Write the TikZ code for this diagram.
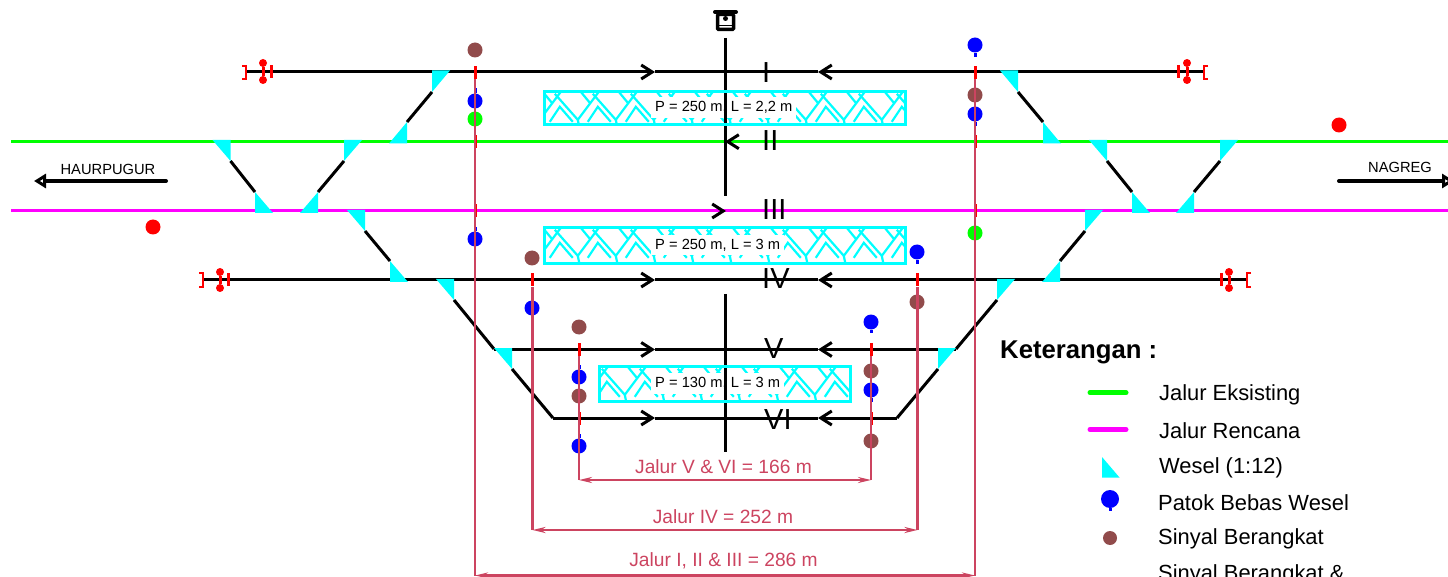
\documentclass[tikz,border=0pt]{standalone}
\usepackage{fontspec}
\setmainfont{Liberation Sans}
\usetikzlibrary{arrows.meta,calc}

\definecolor{ukur}{RGB}{204,68,96}
\definecolor{coklat}{RGB}{145,75,75}
\definecolor{sian}{RGB}{0,255,255}
\definecolor{ungu}{RGB}{255,0,255}
\definecolor{hijau}{RGB}{0,255,0}
\definecolor{biru}{RGB}{0,0,255}
\definecolor{abang}{RGB}{255,0,0}

\newcommand{\arsir}[2]{
\begin{scope}
\clip (#1.north west) rectangle (#1.south east);
\foreach \k in {-1,...,10} {
  \begin{scope}[shift={(#1.north west)}, xshift=#2+38*\k, draw=sian, line width=2.2pt]
  \draw (10,2) -- (33,28) -- (54,0);
  \draw (36,0) -- (45,11);
  \draw (5,30) -- (15,15) -- (28,30);
  \draw (33,28) -- (35,38);
  \end{scope}
}
\end{scope}
}

\begin{document}
\begin{tikzpicture}[x=1pt, y=-1pt]
\tikzstyle{jalur} = [draw=black, line width=3pt]
\tikzstyle{eksisting} = [draw=hijau, line width=3pt]
\tikzstyle{rencana} = [draw=ungu, line width=3pt]
\tikzstyle{panah} = [-{Straight Barb[length=11pt, width=14pt, color=black]}]
\tikzstyle{wesel} = [fill=sian]
\tikzstyle{titik} = [circle, inner sep=0pt, minimum size=15pt]
\tikzstyle{patok} = [titik, fill=biru]
\tikzstyle{batang} = [draw=biru, line width=3pt]
\tikzstyle{sinyal} = [titik, fill=coklat]
\tikzstyle{ijo} = [titik, fill=hijau]
\tikzstyle{merah} = [titik, fill=abang]
\tikzstyle{tanda} = [fill=abang, inner sep=0pt, minimum width=3pt, minimum height=13pt]
\tikzstyle{ukuran} = [draw=ukur, line width=2.5pt]
\tikzstyle{ganda} = [{Stealth[length=13pt, width=6pt]}-{Stealth[length=13pt, width=6pt]}]
\tikzstyle{ukurteks} = [text=ukur, inner sep=0pt, font=\fontsize{19.2pt}{22pt}\selectfont]
\tikzstyle{romawi} = [anchor=base west, inner sep=0pt, font=\fontsize{29pt}{30pt}\selectfont]
\tikzstyle{kota} = [inner sep=0pt, font=\fontsize{14.7pt}{16pt}\selectfont]
\tikzstyle{teks} = [anchor=west, inner sep=0pt, font=\fontsize{21.9pt}{24pt}\selectfont]
\tikzstyle{perontkst} = [anchor=west, fill=white, inner xsep=4pt, inner ysep=4pt, font=\fontsize{14.7pt}{16pt}\selectfont]
\tikzstyle{peron} = [inner sep=0pt]
\tikzstyle{bingkai} = [draw=sian, line width=3pt]
\tikzstyle{sinyalbatas} = [draw=abang, line width=3pt]
\tikzstyle{kurung} = [draw=abang, line width=2pt]
\tikzstyle{bulat} = [circle, fill=abang, inner sep=0pt, minimum size=8pt]
\tikzstyle{besar} = [draw=black, line width=4pt, line cap=round, -{Triangle[open, fill=white, length=12pt, width=14pt, line width=3.5pt]}]
\tikzstyle{contoh} = [line width=5pt, line cap=round]

\useasboundingbox (0,0) rectangle (1448,577);

% jalur
\coordinate (ekstkiri) at (11,141.7);
\coordinate (ekstkanan) at (1448,141.7);
\coordinate (renkiri) at (11,211);
\coordinate (renkanan) at (1448,211);
\draw[eksisting] (ekstkiri) -- (ekstkanan);
\draw[rencana] (renkiri) -- (renkanan);
\coordinate (ekorII) at (737,141.7);
\coordinate (tipII) at (725,141.7);
\draw[eksisting, panah] (ekorII) -- (tipII);
\coordinate (ekorIII) at (713,211);
\coordinate (tipIII) at (726,211);
\draw[rencana, panah] (ekorIII) -- (tipIII);

\coordinate (Ikiri) at (246,72);
\coordinate (Ikanan) at (1204,72);
\coordinate (Itipa) at (655,72);
\coordinate (Itipb) at (818,72);
\draw[jalur, panah] (Ikiri) -- (Itipa);
\draw[jalur, panah] (Ikanan) -- (Itipb);
\draw[jalur] (Itipa) -- (Itipb);

\coordinate (IVkiri) at (203,280);
\coordinate (IVkanan) at (1247,280);
\coordinate (IVtipa) at (655,280);
\coordinate (IVtipb) at (818,280);
\draw[jalur, panah] (IVkiri) -- (IVtipa);
\draw[jalur, panah] (IVkanan) -- (IVtipb);
\draw[jalur] (IVtipa) -- (IVtipb);

\coordinate (Vkiri) at (494,349.5);
\coordinate (Vkanan) at (956,349.5);
\coordinate (Vtipa) at (655,349.5);
\coordinate (Vtipb) at (818,349.5);
\draw[jalur, panah] (Vkiri) -- (Vtipa);
\draw[jalur, panah] (Vkanan) -- (Vtipb);
\draw[jalur] (Vtipa) -- (Vtipb);

\coordinate (VIkiri) at (553,418);
\coordinate (VIkanan) at (897,418);
\coordinate (VItipa) at (655,418);
\coordinate (VItipb) at (818,418);
\draw[jalur, panah] (VIkiri) -- (VItipa);
\draw[jalur, panah] (VIkanan) -- (VItipb);
\draw[jalur] (VItipa) -- (VItipb);

% wesel dan jalur miring, kiri
\coordinate (a1) at (432,92);
\coordinate (a2) at (407,122);
\draw[jalur] (a1) -- (a2);
\fill[wesel] (a1) -- ++(0,-21.5) -- ++(18,0) -- cycle;
\fill[wesel] (a2) -- ++(0,21.5) -- ++(-18,0) -- cycle;

\coordinate (b1) at (230.5,161);
\coordinate (b2) at (255,192);
\draw[jalur] (b1) -- (b2);
\fill[wesel] (b1) -- ++(0,-21) -- ++(-18,0) -- cycle;
\fill[wesel] (b2) -- ++(0,21) -- ++(18,0) -- cycle;

\coordinate (c1) at (344,161);
\coordinate (c2) at (318,192);
\draw[jalur] (c1) -- (c2);
\fill[wesel] (c1) -- ++(0,-21) -- ++(18,0) -- cycle;
\fill[wesel] (c2) -- ++(0,21) -- ++(-18,0) -- cycle;

\coordinate (d1) at (365,231);
\coordinate (d2) at (390,261);
\draw[jalur] (d1) -- (d2);
\fill[wesel] (d1) -- ++(0,-21) -- ++(-18,0) -- cycle;
\fill[wesel] (d2) -- ++(0,21) -- ++(18,0) -- cycle;

\coordinate (e1) at (454,300);
\coordinate (e2) at (494,349);
\coordinate (e3) at (512,369);
\draw[jalur] (e1) -- (e2);
\draw[jalur] (e3) -- (VIkiri);
\fill[wesel] (e1) -- ++(0,-21) -- ++(-18,0) -- cycle;
\fill[wesel] (e3) -- ++(0,-21) -- ++(-18,0) -- cycle;

% wesel dan jalur miring, kanan
\coordinate (f1) at (1018,92);
\coordinate (f2) at (1043,122);
\draw[jalur] (f1) -- (f2);
\fill[wesel] (f1) -- ++(0,-21.5) -- ++(-18,0) -- cycle;
\fill[wesel] (f2) -- ++(0,21.5) -- ++(18,0) -- cycle;

\coordinate (g1) at (1107,161);
\coordinate (g2) at (1132,192);
\draw[jalur] (g1) -- (g2);
\fill[wesel] (g1) -- ++(0,-21) -- ++(-18,0) -- cycle;
\fill[wesel] (g2) -- ++(0,21) -- ++(18,0) -- cycle;

\coordinate (h1) at (1220,161);
\coordinate (h2) at (1194,192);
\draw[jalur] (h1) -- (h2);
\fill[wesel] (h1) -- ++(0,-21) -- ++(18,0) -- cycle;
\fill[wesel] (h2) -- ++(0,21) -- ++(-18,0) -- cycle;

\coordinate (j1) at (1085,231);
\coordinate (j2) at (1060,261);
\draw[jalur] (j1) -- (j2);
\fill[wesel] (j1) -- ++(0,-21) -- ++(18,0) -- cycle;
\fill[wesel] (j2) -- ++(0,21) -- ++(-18,0) -- cycle;

\coordinate (k1) at (997,300);
\coordinate (k2) at (956,349);
\coordinate (k3) at (938,369);
\draw[jalur] (k1) -- (k2);
\draw[jalur] (k3) -- (VIkanan);
\fill[wesel] (k1) -- ++(0,-21) -- ++(18,0) -- cycle;
\fill[wesel] (k3) -- ++(0,-21) -- ++(18,0) -- cycle;

% batas di ujung jalur
\draw[kurung] (242,66) -- (246,66) -- (246,79) -- (242,79);
\draw[kurung] (1208,66) -- (1204,66) -- (1204,79) -- (1208,79);
\draw[kurung] (199,273) -- (203,273) -- (203,287) -- (199,287);
\draw[kurung] (1251,273) -- (1247,273) -- (1247,287) -- (1251,287);

\node[tanda] (ba) at (271.6,72) {};
\node[bulat] (ba1) at (263,63) {};
\node[bulat] (ba2) at (263,80) {};
\draw[sinyalbatas] (ba1) -- (ba2);
\node[tanda] (bb) at (1178.5,72) {};
\node[bulat] (bb1) at (1187,63) {};
\node[bulat] (bb2) at (1187,80) {};
\draw[sinyalbatas] (bb1) -- (bb2);
\node[tanda] (bc) at (228.5,280) {};
\node[bulat] (bc1) at (220,272) {};
\node[bulat] (bc2) at (220,288) {};
\draw[sinyalbatas] (bc1) -- (bc2);
\node[tanda] (bd) at (1221.7,280) {};
\node[bulat] (bd1) at (1229,272) {};
\node[bulat] (bd2) at (1229,288) {};
\draw[sinyalbatas] (bd1) -- (bd2);

% tanda merah
\node[tanda] (t1) at (475,72.5) {};
\node[tanda] (t2) at (475,142) {};
\node[tanda] (t3) at (475,211) {};
\node[tanda] (t4) at (975,72.5) {};
\node[tanda] (t5) at (975,142) {};
\node[tanda] (t6) at (975,211) {};
\node[tanda] (t7) at (532.5,280) {};
\node[tanda] (t8) at (917.5,280) {};
\node[tanda] (t9) at (579,349.5) {};
\node[tanda] (t10) at (871,349.5) {};
\node[tanda] (t11) at (579,418) {};
\node[tanda] (t12) at (871,418) {};

% sinyal dan patok
\node[sinyal] (s1) at (475,50) {};
\node[ijo] (s2) at (475,119) {};
\node[patok] (p1) at (475,101) {};
\draw[batang] (p1) -- ++(0,-13);
\node[patok] (p2) at (475,239) {};
\draw[batang] (p2) -- ++(0,-12);
\node[sinyal] (s3) at (532,258) {};
\node[patok] (p3) at (532,308) {};
\draw[batang] (p3) -- ++(0,-12);
\node[sinyal] (s4) at (579,327) {};
\node[patok] (p4) at (579,377) {};
\draw[batang] (p4) -- ++(0,-12);
\node[sinyal] (s5) at (579,396) {};
\node[patok] (p5) at (579,446) {};
\draw[batang] (p5) -- ++(0,-12);
\node[patok] (p6) at (871,322) {};
\draw[batang] (p6) -- ++(0,11);
\node[sinyal] (s6) at (871,371) {};
\node[patok] (p7) at (871,390) {};
\draw[batang] (p7) -- ++(0,12);
\node[sinyal] (s7) at (871,441) {};
\node[patok] (p8) at (917,252) {};
\draw[batang] (p8) -- ++(0,12);
\node[sinyal] (s8) at (917,302) {};
\node[patok] (p9) at (975,45) {};
\draw[batang] (p9) -- ++(0,12);
\node[sinyal] (s9) at (975,95) {};
\node[patok] (p10) at (975,114) {};
\draw[batang] (p10) -- ++(0,12);
\node[ijo] (s10) at (975,233) {};
\node[merah] (m1) at (1339,125) {};
\node[merah] (m2) at (153,227) {};

% peron
\node[peron, minimum width=360pt, minimum height=32pt] (perona) at (725,108) {};
\node[peron, minimum width=360pt, minimum height=35pt] (peronb) at (725,245.5) {};
\node[peron, minimum width=250pt, minimum height=34pt] (peronc) at (725,384) {};
\arsir{perona}{0}
\arsir{peronb}{0}
\arsir{peronc}{-8}
\node[perontkst] (labela) at (651,107.5) {P = 250 m, L = 2,2 m};
\node[perontkst] (labelb) at (651,245) {P = 250 m, L = 3 m};
\node[perontkst] (labelc) at (651,383.5) {P = 130 m, L = 3 m};

% garis stasiun
\coordinate (v1) at (725,38);
\coordinate (v2) at (725,196);
\coordinate (v3) at (725,294);
\coordinate (v4) at (725,452);
\draw[jalur] (v1) -- (v2);
\draw[jalur] (v3) -- (v4);
\draw[bingkai] (perona.north west) rectangle (perona.south east);
\draw[bingkai] (peronb.north west) rectangle (peronb.south east);
\draw[bingkai] (peronc.north west) rectangle (peronc.south east);

% stasiun
\node[draw=black, fill=white, line width=3.5pt, rounded corners=1pt, inner sep=0pt, minimum width=16pt, minimum height=15pt] (stasiun) at (725.5,22) {};
\coordinate (atapa) at (715,12);
\coordinate (atapb) at (736,12);
\draw[jalur, line width=4pt, line cap=round] (atapa) -- (atapb);
\node[circle, fill=black, inner sep=0pt, minimum size=5pt] (lampu) at (725.5,18.5) {};
\coordinate (lantaia) at (719,25.5);
\coordinate (lantaib) at (732,25.5);
\draw[draw=black, line width=1.5pt] (lantaia) -- (lantaib);

% nomor jalur
\node[romawi] (nI) at (762,83) {I};
\node[romawi] (nII) at (762,151) {II};
\node[romawi] (nIII) at (762,220) {III};
\node[romawi] (nIV) at (762,289) {IV};
\node[romawi] (nV) at (764,358) {V};
\node[romawi] (nVI) at (764,429) {VI};

% arah
\node[kota] (haur) at (108,169) {HAURPUGUR};
\coordinate (haura) at (166,181);
\coordinate (haurb) at (34,181);
\draw[besar] (haura) -- (haurb);
\node[kota] (nagreg) at (1400,167) {NAGREG};
\coordinate (naga) at (1339,181);
\coordinate (nagb) at (1454,181);
\draw[besar] (naga) -- (nagb);

% ukuran
\coordinate (u1a) at (579,480);
\coordinate (u1b) at (871,480);
\draw[ukuran] (t9.south) -- (u1a);
\draw[ukuran] (t10.south) -- (u1b);
\draw[ukuran, ganda] (u1a) -- (u1b);
\node[ukurteks] (ut1) at (723.5,467) {Jalur V \& VI = 166 m};

\coordinate (u2a) at (532.5,530);
\coordinate (u2b) at (917.5,530);
\draw[ukuran] (t7.south) -- (u2a);
\draw[ukuran] (t8.south) -- (u2b);
\draw[ukuran, ganda] (u2a) -- (u2b);
\node[ukurteks] (ut2) at (723,516.5) {Jalur IV = 252 m};

\coordinate (u3a) at (475,575.5);
\coordinate (u3b) at (975,575.5);
\draw[ukuran] (t1.south) -- (u3a);
\draw[ukuran] (t4.south) -- (u3b);
\draw[ukuran, ganda] (u3a) -- (u3b);
\node[ukurteks] (ut3) at (723.5,560.5) {Jalur I, II \& III = 286 m};

% keterangan
\node[anchor=west, inner sep=0pt, font=\bfseries\fontsize{25.7pt}{28pt}\selectfont] (judul) at (1000,352) {Keterangan :};
\coordinate (lga) at (1090,392.6);
\coordinate (lgb) at (1126,392.6);
\draw[draw=hijau, contoh] (lga) -- (lgb);
\node[teks] (lt1) at (1159,394.5) {Jalur Eksisting};
\coordinate (lra) at (1090,429.5);
\coordinate (lrb) at (1126,429.5);
\draw[draw=ungu, contoh] (lra) -- (lrb);
\node[teks] (lt2) at (1159,430.5) {Jalur Rencana};
\coordinate (lw) at (1102,457);
\fill[wesel] (lw) -- ++(0,20.5) -- ++(17.5,0) -- cycle;
\node[teks] (lt3) at (1159,468) {Wesel (1:12)};
\node[patok, minimum size=18pt] (lp) at (1110,499) {};
\draw[batang] (lp) -- ++(0,12);
\node[teks] (lt4) at (1158,503) {Patok Bebas Wesel};
\node[sinyal, minimum size=14pt] (ls) at (1110,538) {};
\node[teks] (lt5) at (1158,538.5) {Sinyal Berangkat};
\node[teks] (lt6) at (1158,575) {Sinyal Berangkat \&};
\end{tikzpicture}
\end{document}
